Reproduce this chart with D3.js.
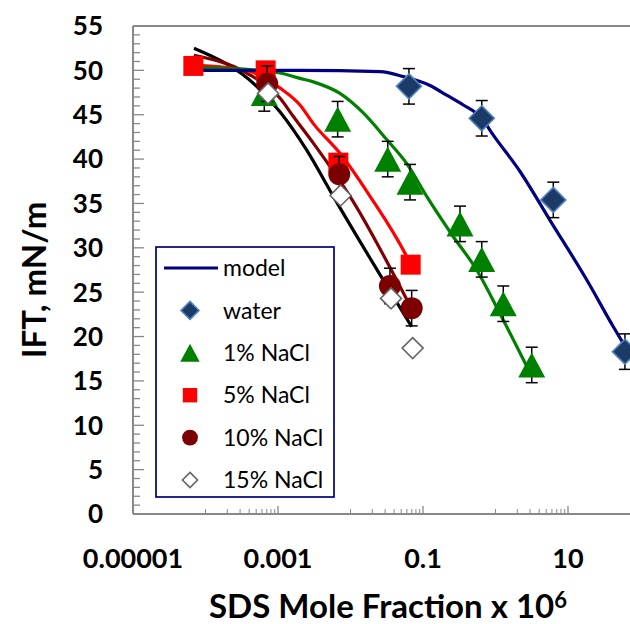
<!DOCTYPE html>
<html><head><meta charset="utf-8">
<script src="https://cdn.jsdelivr.net/npm/d3@7"></script>
<style>body{margin:0;background:#fff}svg{display:block}</style>
</head><body>
<svg id="c" width="630" height="624"></svg>
<script>
// ---- data ----
const xTickValues = [1e-5, 1e-3, 1e-1, 10];
const xTickLabels = ["0.00001", "0.001", "0.1", "10"];
const yTickValues = [0, 5, 10, 15, 20, 25, 30, 35, 40, 45, 50, 55];

const waterX = [0.064, 0.646, 6.27, 61];
const waterY = [48.2, 44.6, 35.4, 18.3];
const nacl1X = [6.47e-4, 6.65e-3, 0.0326, 0.0662, 0.324, 0.646, 1.28, 3.16];
const nacl1Y = [47.4, 44.5, 40.0, 37.4, 32.7, 28.7, 23.7, 16.8];
const nacl5X = [6.8e-5, 6.76e-4, 6.8e-3, 0.0676];
const nacl5Y = [50.5, 50.0, 39.6, 28.1];
const nacl10X = [7.1e-4, 7.0e-3, 0.035, 0.0698];
const nacl10Y = [48.5, 38.3, 25.7, 23.2];
const nacl15X = [7.3e-4, 7.3e-3, 0.0362, 0.072];
const nacl15Y = [47.4, 35.9, 24.3, 18.7];
const errWater = 2, err1 = 2, err10 = 2;

const modelWaterX = [6.9e-5, 2.0e-3, 0.0255, 0.0535, 0.125, 0.212, 0.36, 0.646, 0.933, 2.18, 5.65, 18.1, 42.2, 58, 72];
const modelWaterY = [50.0, 50.0, 49.85, 49.3, 48.3, 47.2, 46.1, 44.6, 42.7, 38.6, 33.1, 26.4, 21.1, 19.2, 17.9];
const model1X = [6.9e-5, 5.65e-4, 1.07e-3, 2.01e-3, 3.07e-3, 7.16e-3, 0.015, 0.0316, 0.0596, 0.1125, 0.262, 0.551, 1.15, 3.0];
const model1Y = [50.3, 50.0, 49.7, 49.1, 48.7, 47.4, 45.2, 42.2, 39.5, 35.8, 31.25, 27.5, 22.6, 15.9];
const model5X = [6.8e-5, 3.7e-4, 1.07e-3, 2.01e-3, 3.07e-3, 7.16e-3, 0.0186, 0.0596, 0.0676];
const model5Y = [50.6, 50.0, 48.0, 46.1, 44.0, 40.65, 35.8, 29.0, 28.1];
const model10X = [6.9e-5, 3.7e-4, 1.07e-3, 1.63e-3, 3.07e-3, 9.84e-3, 0.0698];
const model10Y = [51.7, 49.7, 46.85, 44.8, 41.8, 35.8, 23.1];
const model15X = [6.93e-5, 5.08e-4, 1.07e-3, 2.49e-3, 5.79e-3, 0.0698];
const model15Y = [52.5, 48.2, 45.3, 41.0, 35.8, 21.1];

const legendLabels = ["model", "water", "1% NaCl", "5% NaCl", "10% NaCl", "15% NaCl"];

// ---- drawing ----
const svg = d3.select("#c");
const plotLeft = 133, plotTop = 26, plotBottom = 514;
const x = d3.scaleLog().domain([1e-5, 100]).range([plotLeft, 640.5]);
const y = d3.scaleLinear().domain([0, 55]).range([plotBottom, plotTop]);
const axisColor = "#888888";
const FONT = "Lato, 'Open Sans', sans-serif";

// frame top line
svg.append("line").attr("x1", plotLeft).attr("x2", 630).attr("y1", plotTop).attr("y2", plotTop)
  .attr("stroke", axisColor).attr("stroke-width", 2);

// y axis
const yMinor = d3.range(0, 56, 1);
const yAxis = svg.append("g").attr("transform", `translate(${plotLeft},0)`);
yAxis.selectAll("line.minor").data(yMinor).join("line")
  .attr("x1", 0).attr("x2", d => d % 5 === 0 ? 11 : 7)
  .attr("y1", d => y(d)).attr("y2", d => y(d))
  .attr("stroke", axisColor).attr("stroke-width", 1.3);
yAxis.append("line").attr("x1", 0).attr("x2", 0).attr("y1", plotTop).attr("y2", plotBottom)
  .attr("stroke", axisColor).attr("stroke-width", 2);
svg.append("g").selectAll("text").data(yTickValues).join("text")
  .attr("x", 103).attr("y", d => y(d)).attr("dy", "0.36em")
  .attr("text-anchor", "end").attr("font-family", FONT).attr("font-weight", 700)
  .attr("font-size", 26).attr("fill", "#000").text(d => d);

// x axis
const xMinor = [];
[-5, -3, -1, 1].forEach(e => { for (let k = 1; k <= 9; k++) xMinor.push(k * Math.pow(10, e + 1)); });
const xAxis = svg.append("g");
xAxis.selectAll("line.minor").data(xMinor.filter(v => x(v) <= 630)).join("line")
  .attr("x1", d => x(d)).attr("x2", d => x(d)).attr("y1", plotBottom).attr("y2", plotBottom - 5)
  .attr("stroke", axisColor).attr("stroke-width", 1);
xAxis.selectAll("line.major").data(xTickValues).join("line")
  .attr("x1", d => x(d)).attr("x2", d => x(d)).attr("y1", plotBottom).attr("y2", plotBottom - 8)
  .attr("stroke", axisColor).attr("stroke-width", 1.3);
xAxis.append("line").attr("x1", plotLeft).attr("x2", 630).attr("y1", plotBottom).attr("y2", plotBottom)
  .attr("stroke", axisColor).attr("stroke-width", 2);
svg.append("g").selectAll("text").data(xTickValues).join("text")
  .attr("x", d => x(d)).attr("y", 568).attr("text-anchor", "middle")
  .attr("font-family", FONT).attr("font-weight", 700).attr("font-size", 27)
  .attr("fill", "#000").text((d, i) => xTickLabels[i]);

// axis titles
const xt = svg.append("text").attr("x", 388).attr("y", 618).attr("text-anchor", "middle")
  .attr("font-family", FONT).attr("font-weight", 700).attr("font-size", 33).attr("fill", "#000");
xt.append("tspan").text("SDS Mole Fraction x 10");
xt.append("tspan").attr("font-size", 22).attr("dy", -10).text("6");

svg.append("text").attr("transform", "translate(46,280) rotate(-90)")
  .attr("text-anchor", "middle").attr("font-family", FONT).attr("font-weight", 700)
  .attr("font-size", 33).attr("fill", "#000").text("IFT, mN/m");

// clip
svg.append("clipPath").attr("id", "plot").append("rect")
  .attr("x", plotLeft).attr("y", plotTop - 20).attr("width", 630 - plotLeft).attr("height", plotBottom - plotTop + 20);
const plot = svg.append("g").attr("clip-path", "url(#plot)");

// model curves
const line = d3.line().x(d => x(d[0])).y(d => y(d[1])).curve(d3.curveMonotoneX);
const models = [
  [model15X, model15Y, "#000000"],
  [model10X, model10Y, "#800000"],
  [model5X, model5Y, "#ff0000"],
  [model1X, model1Y, "#008000"],
  [modelWaterX, modelWaterY, "#000080"]
];
models.forEach(([xs, ys, col]) => {
  plot.append("path").datum(xs.map((v, i) => [v, ys[i]]))
    .attr("d", line).attr("fill", "none").attr("stroke", col).attr("stroke-width", 3.2)
    .attr("stroke-linejoin", "round");
});

// marker functions
function diamond(g, s, fill, stroke, sw) {
  g.append("path").attr("d", `M0,${-s}L${s},0L0,${s}L${-s},0Z`)
    .attr("fill", fill).attr("stroke", stroke).attr("stroke-width", sw);
}
function triangle(g, s, fill) {
  g.append("path").attr("d", `M0,${-s * 0.93}L${s},${s * 0.93}L${-s},${s * 0.93}Z`).attr("fill", fill);
}
function square(g, s, fill) {
  g.append("rect").attr("x", -s).attr("y", -s).attr("width", 2 * s).attr("height", 2 * s).attr("fill", fill);
}
function circle(g, s, fill) {
  g.append("circle").attr("r", s).attr("fill", fill);
}
const markers = {
  water: (g, k) => diamond(g, 12.5 * k, "#1b3a66", "#4f7fbf", 1.6),
  n1: (g, k) => triangle(g, 13.5 * k, "#008000"),
  n5: (g, k) => square(g, 10 * k, "#ff0000"),
  n10: (g, k) => circle(g, 11 * k, "#7d0000"),
  n15: (g, k) => diamond(g, 10.5 * k, "#ffffff", "#666666", 1.6)
};

const series = [
  [waterX, waterY, errWater, "water"],
  [nacl1X, nacl1Y, err1, "n1"],
  [nacl5X, nacl5Y, 0, "n5"],
  [nacl10X, nacl10Y, err10, "n10"],
  [nacl15X, nacl15Y, 0, "n15"]
];
series.forEach(([xs, ys, err, key]) => {
  const g = plot.append("g");
  xs.forEach((xv, i) => {
    const cx = x(xv);
    if (err > 0) {
      const y1 = y(ys[i] + err), y2 = y(ys[i] - err);
      g.append("line").attr("x1", cx).attr("x2", cx).attr("y1", y1).attr("y2", y2)
        .attr("stroke", "#000").attr("stroke-width", 1.5);
      [y1, y2].forEach(yy => g.append("line").attr("x1", cx - 6).attr("x2", cx + 6)
        .attr("y1", yy).attr("y2", yy).attr("stroke", "#000").attr("stroke-width", 1.5));
    }
  });
  xs.forEach((xv, i) => {
    const m = g.append("g").attr("transform", `translate(${x(xv)},${y(ys[i])})`);
    markers[key](m, 1);
  });
});

// legend
const lg = svg.append("g");
lg.append("rect").attr("x", 156).attr("y", 247).attr("width", 178).attr("height", 250)
  .attr("fill", "#fff").attr("stroke", "#000080").attr("stroke-width", 1.7);
const rowY = d3.scalePoint().domain(legendLabels).range([268, 480]);
lg.append("line").attr("x1", 164).attr("x2", 218).attr("y1", rowY("model")).attr("y2", rowY("model"))
  .attr("stroke", "#000080").attr("stroke-width", 3.2);
const legKeys = [null, "water", "n1", "n5", "n10", "n15"];
legendLabels.forEach((lab, i) => {
  if (legKeys[i]) {
    const m = lg.append("g").attr("transform", `translate(190,${rowY(lab)})`);
    markers[legKeys[i]](m, 0.72);
  }
  lg.append("text").attr("x", 223).attr("y", rowY(lab)).attr("dy", "0.36em")
    .attr("font-family", FONT).attr("font-size", 23).attr("fill", "#000").text(lab);
});
</script>
</body></html>
